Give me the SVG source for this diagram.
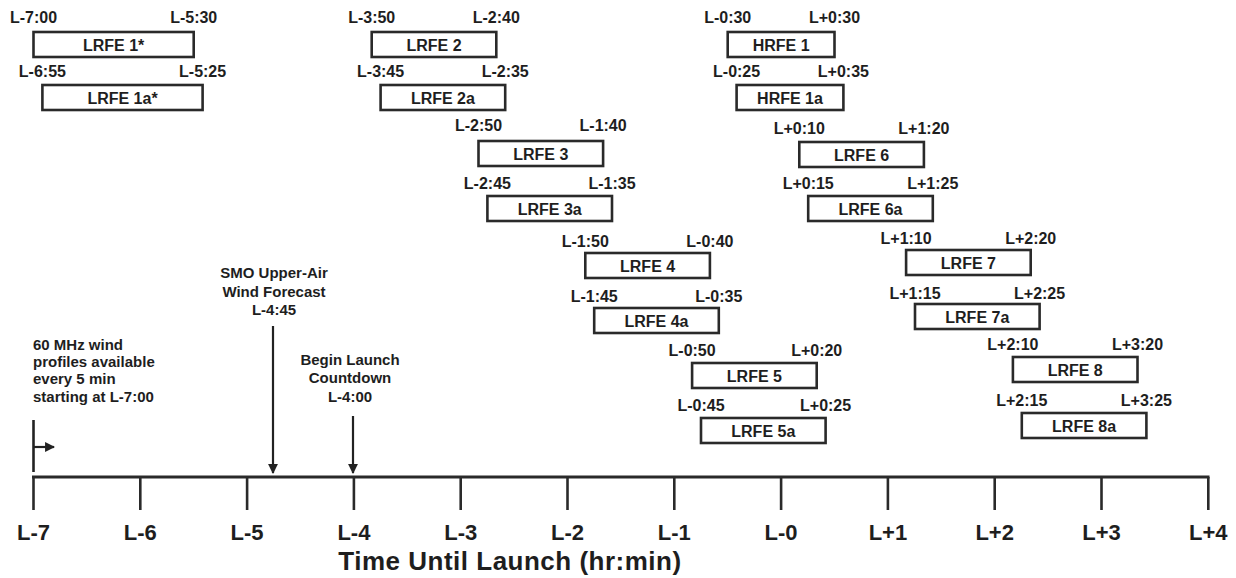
<svg xmlns="http://www.w3.org/2000/svg" width="1236" height="578" viewBox="0 0 1236 578">
<style>
text{font-family:"Liberation Sans",Arial,sans-serif;font-weight:bold;fill:#1e1e1e}
.lb{font-size:16px;text-anchor:middle}
.bx{font-size:16px;text-anchor:middle}
.box{fill:#fff;stroke:#2a2a2a;stroke-width:2.6}
.tk{font-size:22px;text-anchor:middle}
.an{font-size:15px}
.anc{font-size:15px;text-anchor:middle}
.ln{stroke:#222;stroke-width:2.6;fill:none}
.ar{stroke:#222;stroke-width:2.2;fill:none}
</style>
<defs>
<marker id="ah" viewBox="0 0 10 10" refX="9" refY="5" markerWidth="4.5" markerHeight="4.5" orient="auto" markerUnits="strokeWidth">
<path d="M0,0 L10,5 L0,10 z" fill="#222"/>
</marker>
</defs>
<rect width="1236" height="578" fill="#fff"/>

<g id="lrfe1">
<text class="lb" x="33.5" y="23">L-7:00</text><text class="lb" x="193.7" y="23">L-5:30</text>
<rect class="box" x="33.5" y="32" width="160.2" height="25"/><text class="bx" x="113.6" y="50.5">LRFE 1*</text>
</g>
<g id="lrfe1a">
<text class="lb" x="42.4" y="77">L-6:55</text><text class="lb" x="202.6" y="77">L-5:25</text>
<rect class="box" x="42.4" y="85" width="160.2" height="25"/><text class="bx" x="122.5" y="103.5">LRFE 1a*</text>
</g>
<g id="lrfe2">
<text class="lb" x="371.7" y="23">L-3:50</text><text class="lb" x="496.3" y="23">L-2:40</text>
<rect class="box" x="371.7" y="32" width="124.6" height="25"/><text class="bx" x="434" y="50.5">LRFE 2</text>
</g>
<g id="lrfe2a">
<text class="lb" x="380.6" y="77">L-3:45</text><text class="lb" x="505.2" y="77">L-2:35</text>
<rect class="box" x="380.6" y="85" width="124.6" height="25"/><text class="bx" x="442.9" y="103.5">LRFE 2a</text>
</g>
<g id="hrfe1">
<text class="lb" x="727.7" y="23">L-0:30</text><text class="lb" x="834.5" y="23">L+0:30</text>
<rect class="box" x="727.7" y="32" width="106.8" height="25"/><text class="bx" x="781.1" y="50.5">HRFE 1</text>
</g>
<g id="hrfe1a">
<text class="lb" x="736.6" y="77">L-0:25</text><text class="lb" x="843.4" y="77">L+0:35</text>
<rect class="box" x="736.6" y="85" width="106.8" height="25"/><text class="bx" x="790" y="103.5">HRFE 1a</text>
</g>
<g id="lrfe3">
<text class="lb" x="478.5" y="131">L-2:50</text><text class="lb" x="603.1" y="131">L-1:40</text>
<rect class="box" x="478.5" y="141" width="124.6" height="25"/><text class="bx" x="540.8" y="159.5">LRFE 3</text>
</g>
<g id="lrfe3a">
<text class="lb" x="487.4" y="189">L-2:45</text><text class="lb" x="612" y="189">L-1:35</text>
<rect class="box" x="487.4" y="196" width="124.6" height="25"/><text class="bx" x="549.7" y="214.5">LRFE 3a</text>
</g>
<g id="lrfe6">
<text class="lb" x="799.3" y="134">L+0:10</text><text class="lb" x="923.9" y="134">L+1:20</text>
<rect class="box" x="799.3" y="142" width="124.6" height="25"/><text class="bx" x="861.6" y="160.5">LRFE 6</text>
</g>
<g id="lrfe6a">
<text class="lb" x="808.2" y="189">L+0:15</text><text class="lb" x="932.8" y="189">L+1:25</text>
<rect class="box" x="808.2" y="196" width="124.6" height="25"/><text class="bx" x="870.5" y="214.5">LRFE 6a</text>
</g>
<g id="lrfe4">
<text class="lb" x="585.3" y="247">L-1:50</text><text class="lb" x="709.9" y="247">L-0:40</text>
<rect class="box" x="585.3" y="253" width="124.6" height="25"/><text class="bx" x="647.6" y="271.5">LRFE 4</text>
</g>
<g id="lrfe4a">
<text class="lb" x="594.2" y="302">L-1:45</text><text class="lb" x="718.8" y="302">L-0:35</text>
<rect class="box" x="594.2" y="308" width="124.6" height="25"/><text class="bx" x="656.5" y="326.5">LRFE 4a</text>
</g>
<g id="lrfe7">
<text class="lb" x="906.1" y="244">L+1:10</text><text class="lb" x="1030.7" y="244">L+2:20</text>
<rect class="box" x="906.1" y="250" width="124.6" height="25"/><text class="bx" x="968.4" y="268.5">LRFE 7</text>
</g>
<g id="lrfe7a">
<text class="lb" x="915" y="299">L+1:15</text><text class="lb" x="1039.6" y="299">L+2:25</text>
<rect class="box" x="915" y="304" width="124.6" height="25"/><text class="bx" x="977.3" y="322.5">LRFE 7a</text>
</g>
<g id="lrfe5">
<text class="lb" x="692.1" y="356">L-0:50</text><text class="lb" x="816.7" y="356">L+0:20</text>
<rect class="box" x="692.1" y="363" width="124.6" height="25"/><text class="bx" x="754.4" y="381.5">LRFE 5</text>
</g>
<g id="lrfe5a">
<text class="lb" x="701" y="411">L-0:45</text><text class="lb" x="825.6" y="411">L+0:25</text>
<rect class="box" x="701" y="418" width="124.6" height="25"/><text class="bx" x="763.3" y="436.5">LRFE 5a</text>
</g>
<g id="lrfe8">
<text class="lb" x="1012.9" y="350">L+2:10</text><text class="lb" x="1137.5" y="350">L+3:20</text>
<rect class="box" x="1012.9" y="357" width="124.6" height="25"/><text class="bx" x="1075.2" y="375.5">LRFE 8</text>
</g>
<g id="lrfe8a">
<text class="lb" x="1021.8" y="406">L+2:15</text><text class="lb" x="1146.4" y="406">L+3:25</text>
<rect class="box" x="1021.8" y="413" width="124.6" height="25"/><text class="bx" x="1084.1" y="431.5">LRFE 8a</text>
</g>

<g id="note-profiler">
<text class="an" x="33" y="350">60 MHz wind</text>
<text class="an" x="33" y="367">profiles available</text>
<text class="an" x="33" y="384">every 5 min</text>
<text class="an" x="33" y="402">starting at L-7:00</text>
</g>
<g id="note-smo">
<text class="anc" x="274" y="278">SMO Upper-Air</text>
<text class="anc" x="274" y="297">Wind Forecast</text>
<text class="anc" x="274" y="315">L-4:45</text>
</g>
<g id="note-countdown">
<text class="anc" x="350" y="365">Begin Launch</text>
<text class="anc" x="350" y="383">Countdown</text>
<text class="anc" x="350" y="402">L-4:00</text>
</g>

<g id="connectors">
<line class="ln" x1="33.5" y1="420" x2="33.5" y2="472"/>
<line class="ar" x1="33.5" y1="447" x2="54" y2="447" marker-end="url(#ah)"/>
<line class="ar" x1="273" y1="326" x2="273" y2="473" marker-end="url(#ah)"/>
<line class="ar" x1="353" y1="416" x2="353" y2="473" marker-end="url(#ah)"/>
</g>

<g id="axis">
<line x1="32" y1="477" x2="1209.5" y2="477" stroke="#2a2a2a" stroke-width="3"/>
<g stroke="#2a2a2a" stroke-width="2.6">
<line x1="33.5" y1="477" x2="33.5" y2="510"/>
<line x1="140.3" y1="477" x2="140.3" y2="510"/>
<line x1="247.1" y1="477" x2="247.1" y2="510"/>
<line x1="353.9" y1="477" x2="353.9" y2="510"/>
<line x1="460.7" y1="477" x2="460.7" y2="510"/>
<line x1="567.5" y1="477" x2="567.5" y2="510"/>
<line x1="674.3" y1="477" x2="674.3" y2="510"/>
<line x1="781.1" y1="477" x2="781.1" y2="510"/>
<line x1="887.9" y1="477" x2="887.9" y2="510"/>
<line x1="994.7" y1="477" x2="994.7" y2="510"/>
<line x1="1101.5" y1="477" x2="1101.5" y2="510"/>
<line x1="1208.3" y1="477" x2="1208.3" y2="510"/>
</g>
<text class="tk" x="33.5" y="540">L-7</text>
<text class="tk" x="140.3" y="540">L-6</text>
<text class="tk" x="247.1" y="540">L-5</text>
<text class="tk" x="353.9" y="540">L-4</text>
<text class="tk" x="460.7" y="540">L-3</text>
<text class="tk" x="567.5" y="540">L-2</text>
<text class="tk" x="674.3" y="540">L-1</text>
<text class="tk" x="781.1" y="540">L-0</text>
<text class="tk" x="887.9" y="540">L+1</text>
<text class="tk" x="994.7" y="540">L+2</text>
<text class="tk" x="1101.5" y="540">L+3</text>
<text class="tk" x="1208.3" y="540">L+4</text>
<text x="510" y="570" font-size="26" text-anchor="middle" letter-spacing="0.5">Time Until Launch (hr:min)</text>
</g>
</svg>
